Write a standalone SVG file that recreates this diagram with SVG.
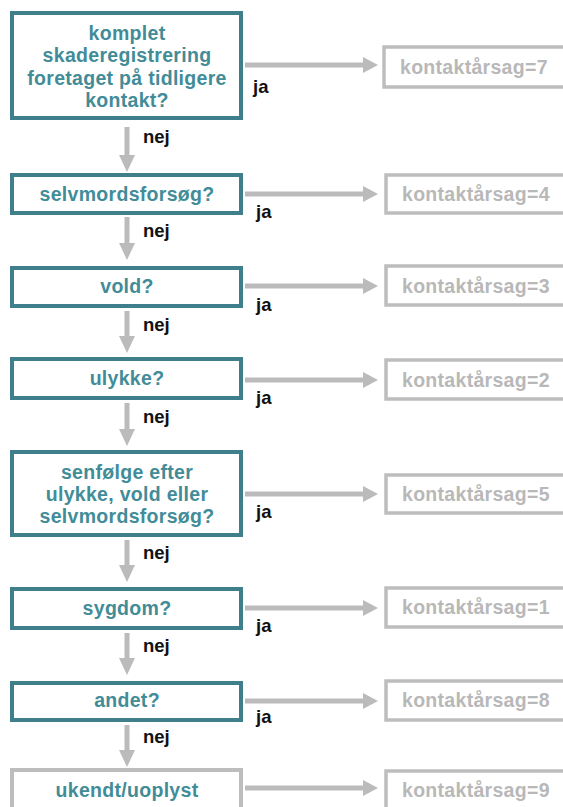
<svg xmlns="http://www.w3.org/2000/svg" width="563" height="807" viewBox="0 0 563 807">
<style>
.q{fill:#fff;stroke:#3f7f8c;stroke-width:4}
.qg{fill:#fff;stroke:#bdbdbd;stroke-width:4}
.r{fill:#fff;stroke:#bdbdbd;stroke-width:3.5}
.qt{font-family:"Liberation Sans",Arial,sans-serif;font-weight:bold;font-size:19.5px;letter-spacing:0.3px;fill:#428c98;text-anchor:middle}
.rt{font-family:"Liberation Sans",Arial,sans-serif;font-weight:bold;font-size:19.5px;letter-spacing:0.3px;fill:#b8b8b8}
.lb{font-family:"Liberation Sans",Arial,sans-serif;font-weight:bold;font-size:18.5px;fill:#111}
.ln{stroke:#bbb;stroke-width:5;fill:none}
.hd{fill:#bbb}
</style>
<rect width="563" height="807" fill="#fff"/>
<g id="connectors">
<g id="h-arrows">
<line class="ln" x1="245" y1="65" x2="366" y2="65"/><polygon class="hd" points="363,57 378,65 363,73"/>
<line class="ln" x1="245" y1="194" x2="366" y2="194"/><polygon class="hd" points="363,186 378,194 363,202"/>
<line class="ln" x1="245" y1="286" x2="366" y2="286"/><polygon class="hd" points="363,278 378,286 363,294"/>
<line class="ln" x1="245" y1="380" x2="366" y2="380"/><polygon class="hd" points="363,372 378,380 363,388"/>
<line class="ln" x1="245" y1="494" x2="366" y2="494"/><polygon class="hd" points="363,486 378,494 363,502"/>
<line class="ln" x1="245" y1="608" x2="366" y2="608"/><polygon class="hd" points="363,600 378,608 363,616"/>
<line class="ln" x1="245" y1="701" x2="366" y2="701"/><polygon class="hd" points="363,693 378,701 363,709"/>
<line class="ln" x1="245" y1="788" x2="366" y2="788"/><polygon class="hd" points="363,780 378,788 363,796"/>
</g>
<g id="v-arrows">
<line class="ln" x1="127" y1="127" x2="127" y2="158"/><polygon class="hd" points="119,155 127,172 135,155"/>
<line class="ln" x1="127" y1="217" x2="127" y2="246"/><polygon class="hd" points="119,243 127,260 135,243"/>
<line class="ln" x1="127" y1="311" x2="127" y2="339"/><polygon class="hd" points="119,336 127,353 135,336"/>
<line class="ln" x1="127" y1="403" x2="127" y2="432"/><polygon class="hd" points="119,429 127,446 135,429"/>
<line class="ln" x1="127" y1="540" x2="127" y2="568"/><polygon class="hd" points="119,565 127,582 135,565"/>
<line class="ln" x1="127" y1="633" x2="127" y2="661"/><polygon class="hd" points="119,658 127,675 135,658"/>
<line class="ln" x1="127" y1="725" x2="127" y2="753"/><polygon class="hd" points="119,750 127,767 135,750"/>
</g>
<g id="labels">
<text class="lb" x="253" y="93">ja</text>
<text class="lb" x="256" y="218">ja</text>
<text class="lb" x="256" y="311">ja</text>
<text class="lb" x="256" y="404">ja</text>
<text class="lb" x="256" y="518">ja</text>
<text class="lb" x="256" y="632">ja</text>
<text class="lb" x="256" y="723">ja</text>
<text class="lb" x="143" y="143">nej</text>
<text class="lb" x="143" y="237">nej</text>
<text class="lb" x="143" y="331">nej</text>
<text class="lb" x="143" y="423">nej</text>
<text class="lb" x="143" y="559">nej</text>
<text class="lb" x="143" y="652">nej</text>
<text class="lb" x="143" y="743">nej</text>
</g>
</g>
<g id="q1"><rect class="q" x="12" y="13" width="229" height="105"/>
<text class="qt" x="127" y="39.5">komplet</text>
<text class="qt" x="127" y="62">skaderegistrering</text>
<text class="qt" x="127" y="84.5">foretaget på tidligere</text>
<text class="qt" x="127" y="107">kontakt?</text></g>
<g id="q2"><rect class="q" x="12" y="175" width="229" height="38"/><text class="qt" x="127" y="201">selvmordsforsøg?</text></g>
<g id="q3"><rect class="q" x="12" y="268" width="229" height="38"/><text class="qt" x="127" y="293">vold?</text></g>
<g id="q4"><rect class="q" x="12" y="359" width="229" height="39"/><text class="qt" x="127" y="385">ulykke?</text></g>
<g id="q5"><rect class="q" x="12" y="452" width="229" height="83"/>
<text class="qt" x="127" y="479">senfølge efter</text>
<text class="qt" x="127" y="501">ulykke, vold eller</text>
<text class="qt" x="127" y="523">selvmordsforsøg?</text></g>
<g id="q6"><rect class="q" x="12" y="589" width="229" height="39"/><text class="qt" x="127" y="615">sygdom?</text></g>
<g id="q7"><rect class="q" x="12" y="683" width="229" height="37"/><text class="qt" x="127" y="707">andet?</text></g>
<g id="q8"><rect class="qg" x="12" y="770" width="229" height="60"/><text class="qt" x="127" y="797">ukendt/uoplyst</text></g>
<g id="r7"><rect class="r" x="384" y="47" width="200" height="40"/><text class="rt" x="400" y="74">kontaktårsag=7</text></g>
<g id="r4"><rect class="r" x="386" y="175" width="200" height="38"/><text class="rt" x="402" y="201">kontaktårsag=4</text></g>
<g id="r3"><rect class="r" x="386" y="266" width="200" height="39"/><text class="rt" x="402" y="293">kontaktårsag=3</text></g>
<g id="r2"><rect class="r" x="386" y="360" width="200" height="39"/><text class="rt" x="402" y="387">kontaktårsag=2</text></g>
<g id="r5"><rect class="r" x="386" y="475" width="200" height="38"/><text class="rt" x="402" y="501">kontaktårsag=5</text></g>
<g id="r1"><rect class="r" x="386" y="588" width="200" height="39"/><text class="rt" x="402" y="614">kontaktårsag=1</text></g>
<g id="r8"><rect class="r" x="386" y="681" width="200" height="39"/><text class="rt" x="402" y="707">kontaktårsag=8</text></g>
<g id="r9"><rect class="r" x="386" y="771" width="200" height="60"/><text class="rt" x="402" y="797">kontaktårsag=9</text></g>
</svg>
